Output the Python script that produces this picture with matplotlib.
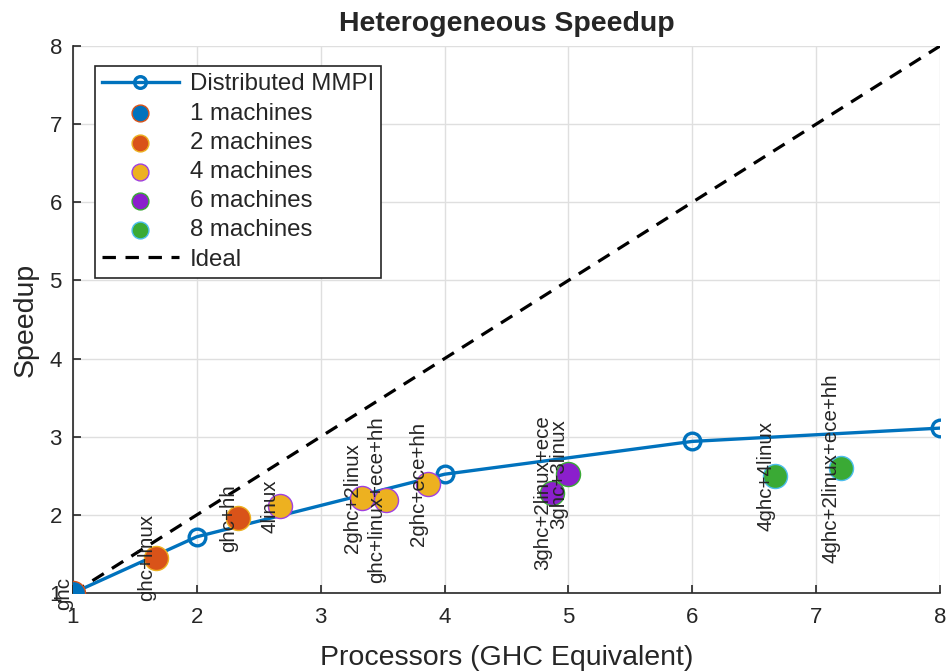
import matplotlib
matplotlib.use("Agg")
import matplotlib.pyplot as plt

plt.rcParams['font.family'] = ['Liberation Sans', 'DejaVu Sans']

# Distributed MMPI curve
mmpi_x = [1, 2, 4, 6, 8]
mmpi_y = [1.0, 1.72, 2.52, 2.94, 3.11]

# Heterogeneous configurations
groups = ["1 machines", "2 machines", "4 machines", "6 machines", "8 machines"]
group_x = [
    [1.0],
    [1.67, 2.33],
    [2.67, 3.33, 3.53, 3.87],
    [4.87, 5.0],
    [6.67, 7.2],
]
group_y = [
    [1.0],
    [1.45, 1.96],
    [2.11, 2.22, 2.19, 2.40],
    [2.28, 2.52],
    [2.50, 2.60],
]
group_labels = [
    ["ghc"],
    ["ghc+linux", "ghc+hh"],
    ["4linux", "2ghc+2linux", "ghc+linux+ece+hh", "2ghc+ece+hh"],
    ["3ghc+2linux+ece", "3ghc+3linux"],
    ["4ghc+4linux", "4ghc+2linux+ece+hh"],
]
face_colors = ["#0072BD", "#D95319", "#EDB120", "#8B1FCC", "#3AAA35"]
edge_colors = ["#D95319", "#EDB120", "#A040E0", "#3AAA35", "#4DBEEE"]

ideal = [1, 8]

fig = plt.figure(figsize=(9.49, 6.71), dpi=100)
ax = fig.add_axes([73/949, 1-593/671, (940-73)/949, (593-46)/671])

ax.plot(mmpi_x, mmpi_y, '-o', color='#0072BD', lw=2.4, ms=12, mew=2.4,
        mfc='none', label='Distributed MMPI', zorder=3)

for name, xs, ys, fc, ec, labs in zip(groups, group_x, group_y, face_colors, edge_colors, group_labels):
    ax.scatter(xs, ys, s=300, c=fc, edgecolors=ec, linewidths=1.0, label=name, zorder=4)
    for xx, yy, lab in zip(xs, ys, labs):
        ax.text(xx, yy, lab, rotation=90, ha='right', va='center', fontsize=14.8,
                color='#262626', zorder=5, clip_on=False)

ax.plot(ideal, ideal, '--', color='black', lw=2.3, dashes=(4.2, 3.0), label='Ideal', zorder=2)

ax.set_xlim(1, 8)
ax.set_ylim(1, 8)
ax.set_xticks(range(1, 9))
ax.set_yticks(range(1, 9))
ax.grid(True, color='#DFDFDF', lw=1.0)
ax.set_axisbelow(True)
for s in ['top', 'right']:
    ax.spines[s].set_visible(False)
for s in ['left', 'bottom']:
    ax.spines[s].set_color('#262626')
    ax.spines[s].set_linewidth(1.2)
ax.tick_params(direction='in', length=6, width=1.2, colors='#262626', labelsize=16)
ax.tick_params(axis='x', pad=10)
ax.tick_params(axis='y', pad=8)

ax.set_xlabel('Processors (GHC Equivalent)', fontsize=20.5, color='#262626', labelpad=12)
ax.set_ylabel('Speedup', fontsize=20.5, color='#262626', labelpad=8)
ax.set_title('Heterogeneous Speedup', fontsize=20.5, fontweight='bold', color='#262626', pad=11)

leg = ax.legend(loc='upper left', bbox_to_anchor=(0.025, 0.963), fontsize=17.3,
                frameon=True, fancybox=False, markerscale=0.7, handlelength=3.2,
                borderpad=0.3, labelspacing=0.3, handletextpad=0.45, borderaxespad=0)
leg.get_frame().set_edgecolor('#262626')
leg.get_frame().set_linewidth(1.2)
leg.get_frame().set_alpha(1)
for t in leg.get_texts():
    t.set_color('#262626')

fig.savefig('out.png', dpi=100)
